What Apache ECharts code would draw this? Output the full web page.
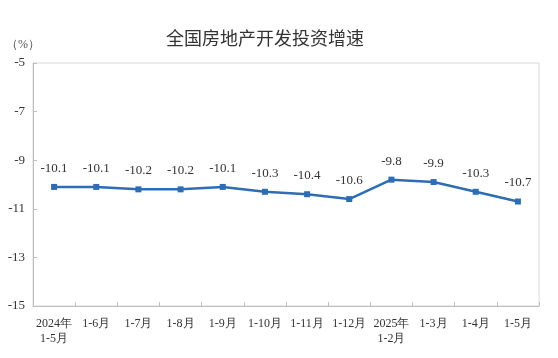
<!DOCTYPE html>
<html><head><meta charset="utf-8">
<script src="https://cdn.jsdelivr.net/npm/echarts@6/dist/echarts.min.js"></script>
<style>html,body{margin:0;padding:0;background:#fff}#c{width:558px;height:358px}</style>
</head><body><div id="c"></div>
<script>
const categories = ['2024年\n1-5月','1-6月','1-7月','1-8月','1-9月','1-10月','1-11月','1-12月','2025年\n1-2月','1-3月','1-4月','1-5月'];
const growth = [-10.1,-10.1,-10.2,-10.2,-10.1,-10.3,-10.4,-10.6,-9.8,-9.9,-10.3,-10.7];
const yTicks = [-15,-13,-11,-9,-7,-5];
const serif = '"Liberation Serif","Times New Roman",serif';
const chart = echarts.init(document.getElementById('c'));
chart.setOption({
  animation:false,
  title:{text:'全国房地产开发投资增速',left:260,top:24,textAlign:'center',
    textStyle:{fontFamily:'"Noto Sans CJK SC",sans-serif',fontSize:18,fontWeight:'normal',color:'#333'}},
  grid:{left:33,right:19,top:63,bottom:52,show:true,borderColor:'#d8d8d8',borderWidth:1},
  xAxis:{type:'category',data:categories,boundaryGap:true,
    axisLine:{lineStyle:{color:'#bfbfbf'}},
    axisTick:{show:true,inside:true,length:4,lineStyle:{color:'#bfbfbf'}},
    axisLabel:{fontFamily:serif,fontSize:12,color:'#333',margin:10,lineHeight:15,interval:0}},
  yAxis:{type:'value',min:-15,max:-5,interval:1,name:'（%）',nameLocation:'end',nameGap:12,
    nameTextStyle:{fontFamily:serif,fontSize:12,color:'#555',align:'center',padding:[0,0,0,-20]},
    splitLine:{show:false},
    axisLine:{show:true,lineStyle:{color:'#bfbfbf'}},
    axisTick:{show:true,inside:true,length:4,customValues:yTicks,lineStyle:{color:'#bfbfbf'}},
    axisLabel:{fontFamily:serif,fontSize:13,color:'#333',margin:8,
      formatter:function(v){return yTicks.indexOf(v)>=0?String(v):'';}}},
  series:[{type:'line',data:growth,symbol:'rect',symbolSize:6,
    lineStyle:{color:'#2e6db4',width:2.5},itemStyle:{color:'#2e6db4'},
    label:{show:true,position:'top',distance:9,fontFamily:serif,fontSize:13,color:'#333'}}]
});
</script></body></html>
